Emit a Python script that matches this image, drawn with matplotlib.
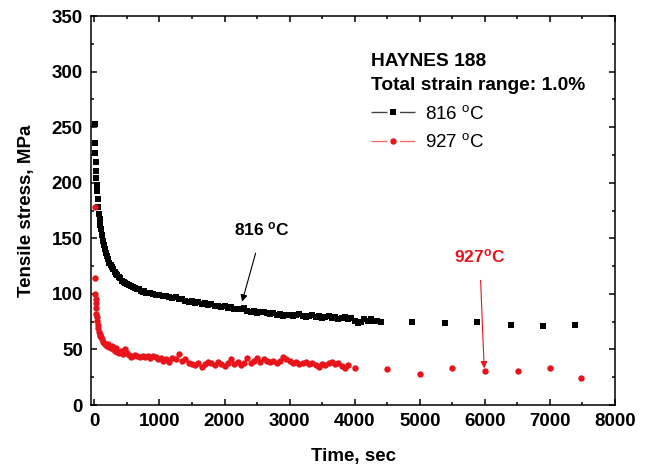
import matplotlib
matplotlib.use("Agg")
import matplotlib.pyplot as plt
from matplotlib.lines import Line2D
from matplotlib.ticker import MultipleLocator

plt.rcParams['font.family'] = ['Liberation Sans', 'DejaVu Sans']

# 816 C, dense part + sparse tail
t_816 = [5, 10, 15, 20, 25, 30, 35, 40, 50, 60, 70, 80, 90, 100, 115, 130, 145, 160,
         175, 190, 210, 230, 250, 270, 290, 310, 330, 350, 375, 400, 425, 450, 475,
         500, 530, 560, 590, 620, 650, 680, 710, 740, 770, 800, 850, 900, 950, 1000,
         1050, 1100, 1150, 1200, 1250, 1300, 1350, 1400, 1450, 1500, 1550, 1600, 1650,
         1700, 1750, 1800, 1850, 1900, 1950, 2000, 2050, 2100, 2150, 2200, 2250, 2300,
         2350, 2400, 2450, 2500, 2550, 2600, 2650, 2700, 2750, 2800, 2850, 2900, 2950,
         3000, 3050, 3100, 3150, 3200, 3250, 3300, 3350, 3400, 3450, 3500, 3550, 3600,
         3650, 3700, 3750, 3800, 3850, 3900, 3950, 4000, 4050, 4100, 4150, 4200, 4250,
         4300, 4350, 4400,
         4877, 5383, 5874, 6396, 6887, 7393]
s_816 = [253, 236, 227, 219, 211, 204, 198, 193, 185, 178, 172, 167, 162, 158, 153, 148, 144, 140,
         137, 134, 131, 128, 126, 124, 122, 120, 118, 117, 115, 114, 112, 111, 110,
         109, 108, 107, 106, 105, 104, 104, 103, 102, 103, 101, 101, 100, 99, 99,
         98, 98, 97, 96, 97, 95, 95, 94, 93, 94, 92, 93, 91,
         92, 90, 91, 89, 89, 88, 89, 87, 88, 86, 86, 86, 87,
         85, 84, 85, 83, 84, 84, 83, 82, 83, 81, 82, 80, 81,
         81, 80, 81, 82, 80, 79, 80, 81, 79, 80, 78, 79, 80,
         78, 79, 77, 78, 79, 77, 78, 76, 74, 75, 77, 76, 77,
         76, 76, 75,
         75, 73.5, 75, 72, 71, 72]

# 927 C
t_927 = [5, 10, 15, 18, 20, 25, 30, 35, 40, 50, 60, 70, 80, 90, 100, 115, 130, 145, 160,
         175, 190, 210, 230, 250, 270, 290, 310, 330, 350, 380, 410, 440, 470, 500, 530,
         560, 590, 620, 660, 700, 740, 780, 820, 860, 900, 940, 980, 1020, 1060, 1100,
         1150, 1200, 1250, 1300, 1350, 1400, 1450, 1500, 1550, 1600, 1650, 1700, 1750,
         1800, 1850, 1900, 1950, 2000, 2050, 2100, 2150, 2200, 2250, 2300, 2350, 2400,
         2450, 2500, 2550, 2600, 2650, 2700, 2750, 2800, 2850, 2900, 2950, 3000, 3050,
         3100, 3150, 3200, 3250, 3300, 3350, 3400, 3450, 3500, 3550, 3600, 3650, 3700,
         3750, 3800, 3850, 3900, 4000,
         4494, 5000, 5491, 5997, 6503, 6994, 7485]
s_927 = [178, 114, 100, 95, 92, 87, 82, 79, 76, 72, 69, 66, 64, 62, 61, 59, 57, 56, 55,
         54, 53, 55, 52, 51, 53, 50, 49, 51, 48, 47, 49, 46, 50, 47, 45,
         43, 44, 45, 44, 43, 44, 43, 44, 42, 44, 43, 41, 42, 40, 41,
         39, 42, 41, 46, 40, 41, 38, 37, 36, 38, 34, 37, 39,
         38, 36, 39, 37, 35, 38, 41, 37, 39, 36, 38, 42, 38,
         40, 42, 39, 41, 40, 39, 40, 38, 40, 43, 41, 40, 38,
         39, 37, 38, 39, 37, 38, 36, 34, 37, 36, 38, 39, 37,
         38, 35, 33, 36, 33,
         32, 28, 33.3, 30.6, 30.6, 33.6, 24.6]

RED = '#e8141c'

fig = plt.figure(figsize=(6.46, 4.71), dpi=100)
ax = fig.add_axes([0.141, 0.140, 0.811, 0.826])

ax.plot(t_816, s_816, linestyle='none', marker='s', markersize=4.3, color='black',
        markeredgewidth=0)
ax.plot(t_927, s_927, linestyle='none', marker='o', markersize=4.6, color=RED,
        markeredgewidth=0)

ax.set_xlim(-50, 8000)
ax.set_ylim(0, 350)
ax.xaxis.set_major_locator(MultipleLocator(1000))
ax.xaxis.set_minor_locator(MultipleLocator(500))
ax.yaxis.set_major_locator(MultipleLocator(50))
ax.yaxis.set_minor_locator(MultipleLocator(25))
ax.tick_params(which='both', direction='in', top=True, right=True, width=1.1)
ax.tick_params(which='major', length=4, pad=6, labelsize=13.5)
ax.tick_params(which='minor', length=2.5)
for lab in ax.get_xticklabels() + ax.get_yticklabels():
    lab.set_fontweight('bold')
for sp in ax.spines.values():
    sp.set_linewidth(1.1)

ax.set_xlabel('Time, sec', fontsize=13.5, fontweight='bold', labelpad=13)
ax.set_ylabel('Tensile stress, MPa', fontsize=13.5, fontweight='bold', labelpad=12)

# annotations
ax.annotate('816 $\\mathregular{^o}$C', xy=(2270, 93), xytext=(2580, 158),
            ha='center', va='center', fontsize=12.5, fontweight='bold',
            arrowprops=dict(arrowstyle='-|>', color='black', lw=0.8,
                            shrinkA=9, shrinkB=0, mutation_scale=10))
ax.annotate('927$\\mathregular{^o}$C', xy=(5990, 33), xytext=(5920, 134),
            ha='center', va='center', fontsize=12.5, fontweight='bold', color=RED,
            arrowprops=dict(arrowstyle='-|>', color=RED, lw=0.8,
                            shrinkA=9, shrinkB=0, mutation_scale=10))

handles = [
    Line2D([], [], color='#444444', linestyle=(0, (11.5, 9)), lw=1.0, marker='s',
           markersize=4.3, markerfacecolor='black', markeredgewidth=0),
    Line2D([], [], color='#f07070', linestyle=(0, (11.5, 9)), lw=1.0, marker='o',
           markersize=4.6, markerfacecolor=RED, markeredgewidth=0),
]
leg = ax.legend(handles, ['816 $\\mathregular{^o}$C', '927 $\\mathregular{^o}$C'],
                title='HAYNES 188\nTotal strain range: 1.0%',
                title_fontproperties={'weight': 'bold', 'size': 13.8},
                alignment='left', frameon=False, fontsize=13.5, numpoints=1,
                handlelength=2.35, handletextpad=0.55, labelspacing=0.55,
                loc='upper left', bbox_to_anchor=(0.52, 0.925), borderaxespad=0)
leg.get_title().set_linespacing(1.6)

fig.savefig('out.png', dpi=100)
